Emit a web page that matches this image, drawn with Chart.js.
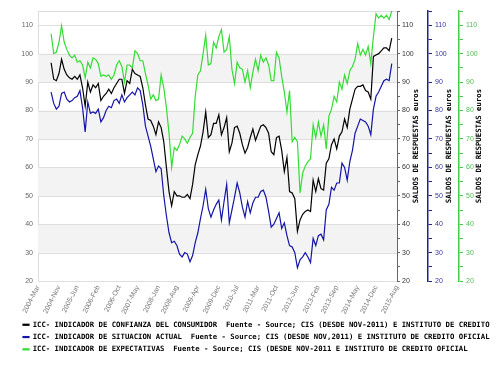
<!DOCTYPE html>
<html lang="es">
<head>
  <meta charset="UTF-8">
  <title>ICC - Indicadores de confianza del consumidor</title>
  <script src="https://cdn.jsdelivr.net/npm/chart.js"></script>
  <style>
    body { margin: 0; background: #fff; }
    #wrap { width: 500px; height: 375px; }
  </style>
</head>
<body>
  <div id="wrap"><canvas id="icc" width="500" height="375"></canvas></div>

  <script>
    // monthly categories, 2004-Mar .. 2015-Aug
    const monthNames = ['Jan', 'Feb', 'Mar', 'Apr', 'May', 'Jun', 'Jul', 'Aug', 'Sep', 'Oct', 'Nov', 'Dec'];
    const years = [2004, 2005, 2006, 2007, 2008, 2009, 2010, 2011, 2012, 2013, 2014, 2015];
    let categories = [];
    years.forEach(y => monthNames.forEach(m => categories.push(y + '-' + m)));
    categories = categories.slice(categories.indexOf('2004-Mar'), categories.indexOf('2015-Aug') + 1);

    const shownTicks = ['2004-Mar', '2004-Nov', '2005-Jun', '2006-Feb', '2006-Oct', '2007-May', '2008-Jan',
      '2008-Aug', '2009-Apr', '2009-Dec', '2010-Jul', '2011-Mar', '2011-Oct', '2012-Jun', '2013-Feb',
      '2013-Sep', '2014-May', '2014-Dec', '2015-Aug'];

    const firstMonth = '2004-Aug';

    // ICC - indicador de confianza del consumidor
    const confianza = [
      96.8, 91, 90.5, 93, 98, 94.5, 92.5, 91.5, 91, 92,
      91, 92.5, 88, 81.5, 90, 86.5, 89, 88, 89.5, 83.5,
      85, 86, 87.5, 86, 88, 89.5, 91, 91, 86, 90.5,
      89.5, 94.5, 93, 92.5, 92, 88, 82, 77, 76.5, 74.5,
      71.5, 76, 74, 69, 60, 51.5, 46.5, 51.5, 50, 50,
      49.5, 49.5, 50.5, 49, 54, 61, 64.5, 67.5, 72.5, 79.5,
      70.5, 71.5, 75.5, 75.5, 78.5, 71.5, 74, 77.5, 65.5, 68.5,
      74, 74.5, 72, 68, 65, 67, 70.5, 73.5, 69.5, 72,
      74.5, 75, 74, 72, 65.5, 64.5, 70.5, 71, 66, 58.5,
      63.5, 51.5, 51, 49, 37.5, 41.5, 43.5, 44.5, 45, 44.5,
      55.5, 51.5, 56, 52.5, 52, 61.5, 63, 68, 70, 66.5,
      71, 72.5, 77, 74, 80.5, 84, 87.5, 88.5, 88.5, 89,
      87, 86.5, 84, 99, 99.5, 100, 101, 102, 102, 101,
      105.5
    ];

    // indicador de situacion actual
    const situacion = [
      86.5, 82.5, 80.5, 81.5, 86, 86.5, 84, 83, 83.5, 84.5,
      85, 87, 81, 72.5, 83, 79, 79.5, 79, 80.5, 76,
      77.5, 80, 81.5, 81, 83.5, 84, 82.5, 85.5, 83, 84.5,
      85.5, 86.5, 85.5, 88, 87, 82, 74.5, 71, 67.5, 63,
      58.5, 60.5, 59.5, 50, 43, 37, 33.5, 34, 32.5, 29.5,
      28.5, 30, 29.5, 26.8, 29, 33.5, 37, 42, 46.5, 52.3,
      45.5, 42.5, 45, 47, 48.5, 41.5, 48, 54, 40.5, 45,
      49.5, 54.5, 51, 46, 42.5, 48, 44, 47.5, 49.5, 49.5,
      51.5, 52, 49.5, 44.5, 39, 40, 42, 44, 38.5, 40.5,
      36, 32.5, 32, 30, 24.7, 27.5, 28.5, 30, 28.5, 26.5,
      35, 32.5, 36, 36.5, 34.5, 45, 47, 53, 52, 54.5,
      54.5, 61.5, 60, 55.5, 62, 66, 72, 74.5, 77, 76.5,
      76, 74.5, 71.5, 80.5, 85, 86.5, 88.5, 90.5, 91, 90.5,
      96.5
    ];

    // indicador de expectativas
    const expectativas = [
      107, 100, 100.5, 104, 109.8, 104, 101.5, 99.5, 98.5, 99.5,
      97, 97.5, 96, 91.5, 97, 95, 98.5, 98, 96.5, 92,
      92.5, 92, 92.5, 91, 92.5, 96, 97.5, 95.5, 90, 96,
      96, 95, 101, 100, 97.5, 97.5, 93, 89, 84, 85.5,
      83.5, 84, 92.5, 88, 81, 72, 60, 67, 66, 68,
      71, 70, 68.5, 70.5, 72, 85, 92.5, 94, 100, 106.5,
      96, 96.5, 104, 102, 106, 108.5, 100.5, 101.5, 106, 94.5,
      89.5, 97, 95, 94.5, 90, 94, 88, 93.5, 98, 94,
      99.5, 97, 98.5, 96, 90.5, 90.5, 100.5, 98.5, 92, 86.5,
      79.5, 87, 69, 70.5, 69, 51, 58, 60.5, 62, 63,
      75, 70.5, 76, 71, 75, 66.5, 78, 80.5, 85, 83,
      90, 87.5, 92.5, 89.5, 94, 95.5, 98, 103.5, 99.5, 101.5,
      99.5, 102.5, 96.5, 106, 114, 112.5, 113.5, 112.5, 113.5, 112,
      115
    ];

    const seriesNames = [
      'ICC- INDICADOR DE CONFIANZA DEL CONSUMIDOR  Fuente - Source; CIS (DESDE NOV-2011) E INSTITUTO DE CREDITO OFICIAL',
      'ICC- INDICADOR DE SITUACION ACTUAL  Fuente - Source; CIS (DESDE NOV,2011) E INSTITUTO DE CREDITO OFICIAL',
      'ICC- INDICADOR DE EXPECTATIVAS  Fuente - Source; CIS (DESDE NOV-2011 E INSTITUTO DE CREDITO OFICIAL'
    ];
    const axisTitle = 'SALDOS DE RESPUESTAS euros';

    const pad = categories.indexOf(firstMonth);
    const toData = vals => categories.map((_, i) => (i >= pad && i - pad < vals.length) ? vals[i - pad] : null);

    const tickFont = { family: 'Liberation Sans', size: 7 };
    const boldFont = { family: 'DejaVu Sans Mono', size: 7.3, weight: 'bold' };
    const tenOnly = v => v % 10 === 0 ? v : '';

    // grey bands behind the lines
    const bandsPlugin = {
      id: 'bands',
      beforeDatasetsDraw(chart) {
        const { ctx, chartArea: a, scales: { y } } = chart;
        ctx.save();
        ctx.fillStyle = '#f3f3f3';
        [[30, 40], [50, 60], [70, 80], [90, 100]].forEach(([lo, hi]) => {
          const top = y.getPixelForValue(hi), bot = y.getPixelForValue(lo);
          ctx.fillRect(a.left, top, a.right - a.left, bot - top);
        });
        // grid lines over the bands
        ctx.strokeStyle = '#dedede';
        ctx.lineWidth = 1;
        y.ticks.forEach(t => {
          if (t.value % 10 !== 0) return;
          const py = Math.round(y.getPixelForValue(t.value)) + 0.5;
          ctx.beginPath(); ctx.moveTo(a.left, py); ctx.lineTo(a.right, py); ctx.stroke();
        });
        ctx.restore();
      }
    };

    // right axis titles, reading bottom to top
    const titlesPlugin = {
      id: 'rightTitles',
      afterDraw(chart) {
        const { ctx, chartArea: a } = chart;
        const spots = { yR: 19, yB: 21, yG: 20 };
        ctx.save();
        ctx.font = 'bold 7.3px "DejaVu Sans Mono"';
        ctx.fillStyle = '#000';
        ctx.textAlign = 'center';
        ctx.textBaseline = 'middle';
        Object.keys(spots).forEach(id => {
          const s = chart.scales[id];
          ctx.save();
          ctx.translate(s.left + spots[id], (a.top + a.bottom) / 2);
          ctx.rotate(-Math.PI / 2);
          ctx.fillText(axisTitle, 0, 0);
          ctx.restore();
        });
        ctx.restore();
      }
    };

    function rightAxis(weight, color, labelColor, lineWidth, tickLen, padding) {
      return {
        position: 'right',
        weight: weight,
        min: 20,
        max: 115,
        afterFit: s => { s.width = 31; },
        grid: { drawOnChartArea: false, tickLength: tickLen, tickColor: color },
        border: { color: color, width: lineWidth },
        ticks: { stepSize: 5, callback: tenOnly, color: labelColor, font: tickFont, padding: padding, autoSkip: false }
      };
    }

    new Chart(document.getElementById('icc'), {
      type: 'line',
      data: {
        labels: categories,
        datasets: [
          { label: seriesNames[0], data: toData(confianza), borderColor: '#000000', backgroundColor: '#000000', yAxisID: 'y' },
          { label: seriesNames[1], data: toData(situacion), borderColor: '#1414a8', backgroundColor: '#1414a8', yAxisID: 'yB' },
          { label: seriesNames[2], data: toData(expectativas), borderColor: '#33dd33', backgroundColor: '#33dd33', yAxisID: 'yG' }
        ]
      },
      options: {
        responsive: false,
        animation: false,
        layout: { padding: { left: 18, right: 10, top: 11, bottom: 12 } },
        elements: {
          line: { borderWidth: 1.2, tension: 0 },
          point: { radius: 0 }
        },
        plugins: {
          tooltip: { enabled: false },
          legend: {
            position: 'bottom',
            align: 'start',
            labels: { color: '#000', font: boldFont, boxWidth: 6, boxHeight: 1, padding: 5 }
          }
        },
        scales: {
          x: {
            offset: false,
            afterFit: s => { s.height = 35; },
            grid: { display: false, drawTicks: false },
            border: { color: '#dddddd' },
            ticks: {
              autoSkip: false,
              minRotation: 63,
              maxRotation: 63,
              padding: 3,
              color: '#777',
              font: tickFont,
              callback: function (v) {
                const lab = this.getLabelForValue(v);
                return shownTicks.includes(lab) ? lab : '';
              }
            }
          },
          y: {
            position: 'left',
            min: 20,
            max: 115,
            afterFit: s => { s.width = 20; },
            grid: {
              drawTicks: false,
              color: c => c.tick.value === 115 ? '#dddddd' : 'rgba(0,0,0,0)'
            },
            border: { color: '#dddddd' },
            ticks: { stepSize: 10, callback: tenOnly, color: '#666', font: tickFont, padding: 5 }
          },
          yR: rightAxis(0, '#666666', '#333', 1, 3, 2),
          yB: rightAxis(1, '#22228a', '#3434a0', 1.5, 4, 3),
          yG: rightAxis(2, '#44cc44', '#55bb55', 1.5, 4, 3)
        }
      },
      plugins: [bandsPlugin, titlesPlugin]
    });
  </script>
</body>
</html>
